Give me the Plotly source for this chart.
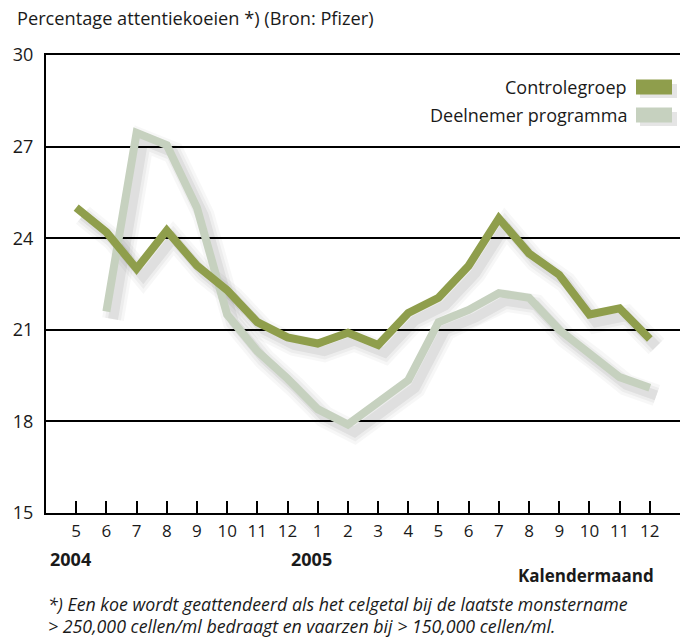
import plotly.graph_objects as go

months = ["5", "6", "7", "8", "9", "10", "11", "12", "1", "2", "3", "4",
          "5", "6", "7", "8", "9", "10", "11", "12"]
years = ["2004", "2005"]
year_pos = [0, 8]
controlegroep = [25.0, 24.2, 23.0, 24.25, 23.1, 22.3, 21.25, 20.75, 20.55, 20.9,
                 20.5, 21.55, 22.05, 23.1, 24.65, 23.5, 22.8, 21.5, 21.7, 20.7]
deelnemer = [None, 21.6, 27.45, 27.05, 25.0, 21.5, 20.3, 19.4, 18.4, 17.9,
             18.6, 19.35, 21.25, 21.65, 22.2, 22.05, 21.0, 20.25, 19.45, 19.1]

yticks = [15, 18, 21, 24, 27, 30]
names = ["Controlegroep", "Deelnemer programma"]
colors = ["#8f9e4c", "#c6d1bf"]
footnote = ["*) Een koe wordt geattendeerd als het celgetal bij de laatste monstername",
            "&gt; 250,000 cellen/ml bedraagt en vaarzen bij &gt; 150,000 cellen/ml."]

FONT = "Open Sans"
x = list(range(len(months)))
PW, PH = 634, 458

fig = go.Figure()

# soft drop shadows
for series in [deelnemer, controlegroep]:
    sx = [i + 0.22 for i in x]
    sy = [v - 0.25 if v is not None else None for v in series]
    for w, a in [(22, 0.03), (16, 0.04), (10, 0.06)]:
        fig.add_trace(go.Scatter(x=sx, y=sy, mode="lines",
                                 line=dict(color=f"rgba(0,0,0,{a})", width=w),
                                 hoverinfo="skip", showlegend=False))

fig.add_trace(go.Scatter(x=x, y=deelnemer, mode="lines", name=names[1],
                         line=dict(color=colors[1], width=8), showlegend=False))
fig.add_trace(go.Scatter(x=x, y=controlegroep, mode="lines", name=names[0],
                         line=dict(color=colors[0], width=8), showlegend=False))

fig.update_layout(
    width=680, height=641,
    margin=dict(l=46, r=0, t=55, b=128, autoexpand=False),
    paper_bgcolor="white", plot_bgcolor="white",
    font=dict(family=FONT, size=17, color="#1a1a1a"),
    xaxis=dict(range=[-1, 20], tickmode="array", tickvals=x, ticktext=months,
               ticks="inside", ticklen=12, tickwidth=1.5, tickcolor="black",
               showline=True, linecolor="black", linewidth=2, mirror=True,
               showgrid=False, zeroline=False, ticklabelstandoff=2,
               automargin=False, tickfont=dict(size=17)),
    yaxis=dict(range=[15, 30], tickmode="array", tickvals=yticks,
               ticks="", showline=True, linecolor="black", linewidth=2,
               showgrid=True, gridcolor="black", gridwidth=1.5, zeroline=False,
               ticklabelstandoff=7, automargin=False, tickfont=dict(size=18)),
)

# title
fig.add_annotation(text="Percentage attentiekoeien *) (Bron: Pfizer)",
                   xref="paper", yref="paper", x=-31 / PW, y=1 + 37 / PH,
                   xanchor="left", yanchor="middle", showarrow=False,
                   font=dict(size=18.2))

# legend
for k, (nm, col) in enumerate(zip(names, colors)):
    yc = 1 - (32 + 28 * k) / PH
    fig.add_annotation(text=nm, xref="paper", yref="paper", x=(629 - 46) / PW, y=yc,
                       xanchor="right", yanchor="middle", showarrow=False,
                       font=dict(size=18))
    fig.add_shape(type="rect", xref="paper", yref="paper",
                  x0=(640 - 46) / PW, x1=(677 - 46) / PW,
                  y0=yc - 11 / PH, y1=yc + 3 / PH,
                  fillcolor="rgba(0,0,0,0.10)", line=dict(width=0), layer="below")
    fig.add_shape(type="rect", xref="paper", yref="paper",
                  x0=(636 - 46) / PW, x1=(672 - 46) / PW,
                  y0=yc - 7.5 / PH, y1=yc + 7.5 / PH,
                  fillcolor=col, line=dict(width=0))

# years
for yr, p in zip(years, year_pos):
    fig.add_annotation(text=f"<b>{yr}</b>", x=p - 0.2, xref="x", yref="paper",
                       y=-46 / PH, xanchor="center", yanchor="middle",
                       showarrow=False, font=dict(size=18))

fig.add_annotation(text="<b>Kalendermaand</b>", xref="paper", yref="paper",
                   x=(656 - 46) / PW, y=-62 / PH, xanchor="right", yanchor="middle",
                   showarrow=False, font=dict(size=17))

for k, line in enumerate(footnote):
    fig.add_annotation(text=f"<i>{line}</i>", xref="paper", yref="paper",
                       x=0, y=-(91 + 21.5 * k) / PH,
                       xanchor="left", yanchor="middle", align="left",
                       showarrow=False, font=dict(size=17.8))

fig.write_html("out.html", config={"displayModeBar": False},
               post_script="document.body.style.margin='0';")
